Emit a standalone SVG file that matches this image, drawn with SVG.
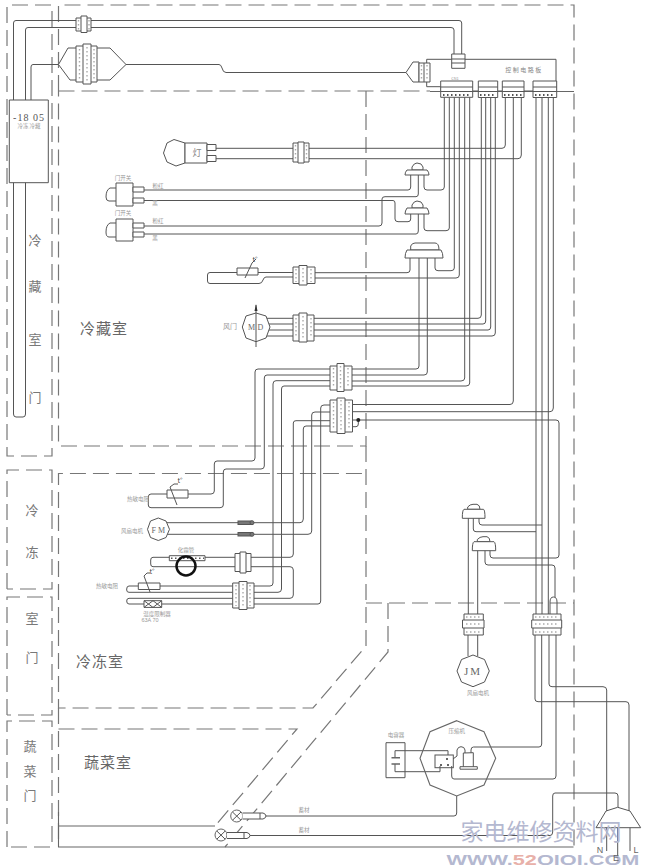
<svg xmlns="http://www.w3.org/2000/svg" width="645" height="868" viewBox="0 0 645 868">
<style>
text{font-family:"Noto Sans CJK SC","Liberation Sans",sans-serif;fill:#666;text-anchor:middle;opacity:.99}
.d{fill:none;stroke:#777;stroke-width:1.2;stroke-dasharray:16 7}
.s{fill:none;stroke:#666;stroke-width:1.1}
.w{fill:none;stroke:#555;stroke-width:1}
.n{fill:#fff;stroke:#555;stroke-width:1;stroke-linejoin:round}
.p{fill:#fff;stroke:#666;stroke-width:1}
.t{fill:none;stroke:#aaa;stroke-width:1.4;stroke-dasharray:1.5 2.5}
.b{font-size:13px;fill:#777}
.r{font-size:15px;fill:#666}
.m{font-size:5.5px;fill:#999}
.v{font-size:8px;fill:#666;font-family:"Liberation Serif",serif}
</style>
<rect width="645" height="868" fill="#fff"/>
<g id="cabinet">
<path class="d" d="M7 276V5H52V456H7V276"/>
<path class="d" d="M7 589V470H52V589H7"/>
<path class="d" d="M7 715V597H52V715H7"/>
<path class="d" d="M7 847V721H52V847H7"/>
<path class="d" d="M58.5 91V5H574V847"/>
<path class="d" d="M58.5 91H430"/>
<path class="s" d="M430 91.5H574"/>
<path class="d" d="M366 91V446H58.5V91"/>
<path class="d" d="M366 446V646L313 708H58.5V473.5H366"/>
<path class="d" d="M58.5 708V846"/>
<path class="d" d="M366 603H574"/>
<path class="d" d="M388 603V652L225 847"/>
<path class="d" d="M58.5 729H297L215 826"/>
<path class="s" d="M58.5 812V826H215"/>
<path class="s" d="M58.5 826V847H573.5"/>
</g>
<g id="connectors">
<path class="w" d="M461.7 55V23Q461.7 20.5 459 20.5H16Q13.5 20.5 13.5 23V414Q13.5 417 16 417H23Q25.5 417 25.5 414V30Q25.5 27.5 28 27.5H451Q454 27.5 454 30V55"/>
<path class="w" d="M31 100V67Q31 64.5 33 64.5H58.5"/>
<path class="w" d="M126 64.5H219Q221 64.5 222 68Q223 72.5 226 72.5H406"/>
<path class="w" d="M444.3 97V187Q444.3 190 441 190H427Q424 190 424 187V175"/>
<path class="w" d="M449.3 97V228Q449.3 230.7 446 230.7H427Q424 230.7 424 228V214"/>
<path class="w" d="M454.3 97V268Q454.3 270.7 451 270.7H438Q435 270.7 435 268V258"/>
<path class="w" d="M459.3 97V275Q459.3 278 456 278H315"/>
<path class="w" d="M464.7 97V378Q464.7 381 461 381H351"/>
<path class="w" d="M469.7 97V383Q469.7 386 466 386H351"/>
<path class="w" d="M481.3 97V315Q481.3 318.3 478 318.3H264"/>
<path class="w" d="M485.7 97V321Q485.7 324 483 324H264"/>
<path class="w" d="M490.7 97V327Q490.7 330 488 330H264"/>
<path class="w" d="M495.3 97V333Q495.3 336 492 336H264"/>
<path class="w" d="M505.3 97V145Q505.3 148.3 502 148.3H215"/>
<path class="w" d="M521.3 97V155Q521.3 158.7 518 158.7H215"/>
<path class="w" d="M513.3 97V401Q513.3 404.5 510 404.5H351"/>
<path class="w" d="M536 97V614M542 97V614M548.3 97V614"/>
<path class="w" d="M553.3 97V408Q553.3 411.7 550 411.7H351"/>
<path class="w" d="M351 420H556Q559 420 559 423V555Q559 558 556 558H493Q490 558 490 555V550"/>
<path class="w" d="M351 426.7H356Q358.3 426.7 358.3 424V420"/>
<path class="w" d="M468.3 518V614M473.3 518V529Q473.3 531.7 476 531.7H536M479 518V522Q479 525 482 525H542"/>
<path class="w" d="M477.7 550V614M485 550V562Q485 565 488 565H552Q555 565 555 568V597"/>
<path class="w" d="M550 614V602Q550 597 553.5 597Q557 597 557 602V614"/>
<path class="w" d="M468 635V656M477.7 635V656"/>
<path class="w" d="M535 635V699Q535 701.7 538 701.7H626Q629 701.7 629 705V811"/>
<path class="w" d="M541.7 635V744Q541.7 747 539 747H473.5Q471 747 471 750V753"/>
<path class="w" d="M549 635V684Q549 686.7 552 686.7H603Q606.7 686.7 606.7 690V811"/>
<path class="w" d="M556 635V776Q556 779 553 779H454Q451.7 779 451.7 776V766"/>
<path class="w" d="M456.7 796V813Q456.7 816 454 816H265"/>
<path class="w" d="M250 835.5H550Q552.7 835.5 552.7 832V796Q552.7 793 555 793H615Q618 793 618 796V807"/>
<path class="w" d="M606.7 827V851M617.7 827V856M630 827V851"/>
<path class="w" d="M144 190H408Q410.7 190 410.7 187V175"/>
<path class="w" d="M418.3 175V194Q418.3 196.7 416 196.7H385Q382 196.7 382 199V223Q382 226 379 226H144"/>
<path class="w" d="M144 200.5H393Q395 200.5 395 203V219Q395 221.7 398 221.7H408Q410.7 221.7 410.7 219V214"/>
<path class="w" d="M418.3 214V231Q418.3 234 416 234H144"/>
<path class="w" d="M258 272.5H293M315 272.7H407Q410 272.7 410 270V258"/>
<path class="w" d="M237 272.5H210Q207.5 272.5 207.5 275V281Q207.5 283.5 210 283.5H259Q262 283.5 263 280Q264 277 266 277H293"/>
<path class="w" d="M419 258V366Q419 369 416 369H351"/>
<path class="w" d="M427.3 258V372Q427.3 375 424 375H351"/>
<path class="w" d="M330 369H258Q255 369 255 372V458Q255 461 252 461H217Q214.3 461 214.3 464V491Q214.3 494 211 494H188"/>
<path class="w" d="M330 375H267Q264.3 375 264.3 378V466Q264.3 469 261 469H226Q223.3 469 223.3 472V505Q223.3 507.7 220 507.7H151Q148.3 507.7 148.3 505V497Q148.3 494 151 494H167"/>
<path class="w" d="M330 380.7H276Q273 380.7 273 384V583Q273 586 270 586H254"/>
<path class="w" d="M330 386H284Q281.5 386 281.5 389V589Q281.5 592.3 278 592.3H254"/>
<path class="w" d="M330 405H324Q320.7 405 320.7 408V601Q320.7 604 318 604H254"/>
<path class="w" d="M330 412H315Q311.7 412 311.7 415V531Q311.7 534.3 308 534.3H167"/>
<path class="w" d="M330 420.7H296Q293.3 420.7 293.3 423V554Q293.3 557.3 290 557.3H251"/>
<path class="w" d="M330 426H306Q303.3 426 303.3 429V519Q303.3 522.7 300 522.7H167"/>
<path class="w" d="M235 557.3H153Q150.7 557.3 150.7 560V564Q150.7 566.7 153 566.7H235"/>
<path class="w" d="M251 566.7H290Q293.3 566.7 293.3 570V595Q293.3 598.3 290 598.3H254"/>
<path class="w" d="M232.7 586H160M138.3 586H129Q126.7 586 126.7 589V590Q126.7 592.3 129 592.3H232.7"/>
<path class="w" d="M232.7 598.3H129Q126.7 598.3 126.7 601Q126.7 604 129 604H232.7"/>
</g>
<g id="door-heater-box">
<rect class="n" x="9.3" y="100" width="39" height="82.7"/>
<text x="29" y="121" style="font-size:10px;letter-spacing:1px;font-family:'Liberation Serif',serif;fill:#555">-18 05</text>
<text x="29" y="128" class="m">冷冻  冷藏</text>
</g>
<g id="conn-top">
<rect class="n" x="76" y="18" width="15" height="13"/><rect class="n" x="81" y="16" width="6" height="16.5"/>
<path class="t" d="M78.5 20V30M89 20V30"/>
</g>
<g id="conn-double">
<path class="n" d="M58.5 64.5L68 48H110L126 64.5L110 80H70Z"/>
<rect class="n" x="76" y="46" width="21" height="36"/><rect class="n" x="83" y="44" width="8" height="40"/>
<path class="t" d="M79.5 49V80M87 47V81M94 49V80"/>
</g>
<g id="control-board">
<path class="n" d="M426.7 59.3H556V91H441V86.7H426.7Z"/>
<text x="524" y="72" style="font-size:6px;letter-spacing:1.500px;fill:#888">控制电路板</text>
<text x="455" y="80" class="m" style="font-size:4px">CN1</text>
<rect class="n" x="451.7" y="54" width="13.3" height="14.3"/><path class="w" d="M451.7 59H465M451.7 63H465"/>
<path class="n" d="M406 72.5L413 62H419V82H413Z"/>
<rect class="n" x="419" y="63" width="11" height="19"/><path class="w" d="M424 63V82"/><path class="t" d="M421.5 65V80M427 65V80"/>
<g id="cn1"><rect class="n" x="440.7" y="81" width="32" height="16.3"/><path class="w" d="M440.7 87H472.7M440.7 91.5H472.7"/><path class="t" d="M443 95H471" style="stroke:#555;stroke-width:2"/></g>
<g id="cn2"><rect class="n" x="478.3" y="81" width="19.4" height="16.5"/><path class="w" d="M478.3 87H497.7M478.3 91.5H497.7"/><path class="t" d="M480 95H496" style="stroke:#555;stroke-width:2"/></g>
<g id="cn3"><rect class="n" x="502.3" y="81" width="21.7" height="16.5"/><path class="w" d="M502.3 87H524M502.3 91.5H524"/><path class="t" d="M504 95H522" style="stroke:#555;stroke-width:2"/></g>
<g id="cn4"><rect class="n" x="533" y="81" width="23.7" height="16.5"/><path class="w" d="M533 87H556.7M533 91.5H556.7"/><path class="t" d="M535 95H555" style="stroke:#555;stroke-width:2"/></g>
</g>
<g id="lamp">
<path class="n" d="M185 143L174 139.5L167 143L163.5 153L167 162L176 166L185 163Z"/>
<rect class="n" x="185" y="143" width="22" height="20"/>
<rect class="n" x="207" y="144.5" width="9" height="6"/><rect class="n" x="207" y="155.5" width="9" height="6"/>
<text x="197" y="156" style="font-size:9px;fill:#888">灯</text>
</g>
<g id="conn-lamp">
<rect class="n" x="293" y="143" width="16" height="19"/><rect class="n" x="298" y="142" width="6" height="21"/>
<path class="t" d="M295.5 145V160M306.5 145V160"/>
</g>
<g id="switch-1">
<text x="123" y="180" class="m">门开关</text>
<path class="n" d="M116 188H110Q106 190 106 197Q106 201 109 201H116"/>
<rect class="n" x="116" y="183" width="17" height="23"/>
<rect class="n" x="133" y="187" width="11" height="5"/><rect class="n" x="133" y="198" width="11" height="5"/>
<text x="158" y="188" class="m">粉红</text><text x="155" y="205" class="m">黑</text>
</g>
<g id="switch-2">
<text x="123" y="215" class="m">门开关</text>
<path class="n" d="M116 223H110Q106 225 106 232Q106 237 109 237H116"/>
<rect class="n" x="116" y="219" width="17" height="22"/>
<rect class="n" x="133" y="223" width="11" height="5"/><rect class="n" x="133" y="232" width="11" height="5"/>
<text x="158" y="223" class="m">粉红</text><text x="155" y="240" class="m">黑</text>
</g>
<g id="plug-1">
<path class="n" d="M412 170V167Q414 163 417 163Q422 163 423 167V170Z"/>
<path class="n" d="M407 170H427Q429 172 429 175H405Q405 172 407 170Z"/>
</g>
<g id="plug-2">
<path class="n" d="M412 208V205Q414 201 417 201Q422 201 423 205V208Z"/>
<path class="n" d="M407 208H427Q429 211 429 214H405Q405 211 407 208Z"/>
</g>
<g id="plug-3">
<path class="n" d="M410.7 250V246Q412 243 415 243H435Q439 243 439 250Z"/>
<path class="n" d="M407 250H441Q443 253 443 258H405Q405 253 407 250Z"/>
</g>
<g id="thermistor-1">
<rect class="n" x="237" y="268" width="21" height="7"/>
<path class="w" d="M245 278L252 263L256 259"/>
<text x="255" y="262" class="m" style="font-size:7px;fill:#444">t°</text>
<rect class="n" x="293" y="267" width="22" height="16.5"/><rect class="n" x="299" y="265.5" width="8" height="19.5"/>
<path class="t" d="M296 269V282M303 268V283M311 269V282"/>
</g>
<g id="damper">
<path class="n" d="M256 313L266 316L270 327L266 338L256 341.7L246 338L242.3 327L246 316Z"/>
<path class="w" d="M256 305V347"/>
<path d="M256 304L254.5 311H257.5Z" fill="#333"/>
<text x="251.500" y="330" class="v">M</text><text x="260.500" y="330" class="v">D</text>
<text x="230" y="329" class="m" style="font-size:7px">风门</text>
<rect class="n" x="293" y="315" width="21" height="26"/><rect class="n" x="299" y="313" width="8" height="29"/>
<path class="t" d="M296 318V338M303 316V340M311 318V338"/>
</g>
<g id="conn-a">
<rect class="n" x="330" y="366" width="22" height="24"/><rect class="n" x="337" y="363.5" width="7" height="28"/>
<path class="t" d="M333.500 368V388M340.500 366V390M348 368V388"/>
</g>
<g id="conn-b">
<rect class="n" x="330" y="400" width="22.500" height="32"/><rect class="n" x="337" y="398" width="8" height="35.500"/>
<path class="t" d="M333.500 402V430M341 400V432M349 402V430"/>
<circle cx="358.300" cy="420" r="2" fill="#222"/>
</g>
<g id="thermistor-2">
<text x="138" y="501" class="m">热敏电阻</text>
<rect class="n" x="167" y="490" width="21" height="8"/>
<path class="w" d="M177 505L170 487L174 484H178"/>
<text x="180" y="483" class="m" style="font-size:7px;fill:#444">t°</text>
</g>
<g id="fan-motor">
<text x="132" y="533" class="m">风扇电机</text>
<path class="n" d="M158.300 518L166 521L169.500 529.300L166 537.500L158.300 540.500L150.500 537.500L147.500 529.300L150.500 521Z"/>
<text x="158.300" y="532.500" class="v">F M</text>
<g fill="#777" stroke="#555"><rect x="238" y="521" width="13" height="3.500"/><circle cx="252" cy="522.700" r="2"/><rect x="238" y="532.500" width="13" height="3.500"/><circle cx="252" cy="534.300" r="2"/></g>
</g>
<g id="defrost-heater">
<text x="186" y="552" class="m">化霜管</text>
<rect class="n" x="169.300" y="555.700" width="35.700" height="5"/>
<path class="t" d="M171 558.200H204" style="stroke:#555"/>
<circle cx="186" cy="566" r="9.500" fill="none" stroke="#111" stroke-width="2.500"/>
<rect class="n" x="235" y="553.500" width="16" height="18"/><rect class="n" x="240" y="552" width="6" height="21"/>
</g>
<g id="thermistor-3">
<text x="107" y="588" class="m">热敏电阻</text>
<rect class="n" x="138.300" y="583" width="21.700" height="6.500"/>
<path class="w" d="M150 592L144 576L147 573H150"/>
<text x="152" y="574" class="m" style="font-size:7px;fill:#444">t°</text>
</g>
<g id="fuse">
<rect class="n" x="144" y="600.700" width="17.700" height="6.700"/>
<path class="w" d="M144 600.700L153 607.400L161.700 600.700M144 607.400L153 600.700L161.700 607.400"/>
<text x="157" y="615.500" class="m">温度限制器</text>
<text x="150" y="622" class="m" style="font-family:'Liberation Sans',sans-serif">63A 70</text>
</g>
<g id="conn-c">
<rect class="n" x="232.700" y="583" width="21.300" height="25"/><rect class="n" x="239" y="581.500" width="8" height="28"/>
<path class="t" d="M236 585V606M243 584V607M250 585V606"/>
</g>
<g id="plug-a">
<path class="n" d="M467.700 509.300V507Q470 504.300 473 504.300H477Q480 505 480 509.300Z"/>
<path class="n" d="M464 509.300H483.500Q485 510 485 518.300H462.300Q462.300 510 464 509.300Z"/>
</g>
<g id="plug-b">
<path class="n" d="M477.300 541.700V539.500Q480 536.700 483 536.700H487Q490 537.500 490 541.700Z"/>
<path class="n" d="M474 541.700H494Q495.700 542.500 495.700 550.700H472.300Q472.300 542.500 474 541.700Z"/>
</g>
<g id="conn-jm">
<rect class="n" x="464" y="614" width="19.300" height="21"/><rect class="n" x="462.500" y="620" width="21.500" height="8"/>
<path class="t" d="M466 617H481M466 624H481M466 632H481"/>
</g>
<g id="conn-main">
<rect class="n" x="533" y="614" width="28" height="21"/><rect class="n" x="531.700" y="620" width="30" height="8"/>
<path class="t" d="M535 617H559M535 624H559M535 632H559"/>
</g>
<g id="jm-motor">
<path class="n" d="M473 655L484.500 659.500L489.300 671L484.500 682L473 686.700L461.500 682L457 671L461.500 659.500Z"/>
<text x="473" y="675" style="font-size:11px;font-family:'Liberation Serif',serif;letter-spacing:2px">JM</text>
<text x="478" y="695" class="m">风扇电机</text>
</g>
<g id="capacitor">
<text x="396" y="737" class="m">电容器</text>
<rect class="n" x="386" y="742.700" width="19" height="35"/>
<path class="w" d="M395 757.700V750.700H448V755M395 764V771.700H440V766"/>
<path class="s" d="M391.500 757.700H400M391.500 764H400" style="stroke-width:1.500"/>
</g>
<g id="compressor">
<path class="s" d="M456.700 720.700L484 731.700L495.700 758.300L484 785L456.700 796L430 785L420 758.300L430 731.700Z"/>
<text x="456.700" y="733" class="m">压缩机</text>
<rect class="w" x="435" y="755" width="18.300" height="12.700"/>
<circle cx="447" cy="759" r="1" fill="#333"/><circle cx="441" cy="765" r="1" fill="#333"/><circle cx="448" cy="765" r="1" fill="#333"/>
<path class="n" d="M463.300 768V753L473.300 752.700V768Z"/>
<rect class="n" x="460" y="766.700" width="17.300" height="2.500"/>
<path class="w" d="M453 759L457 756V750Q458 746.700 461 746.700Q464.500 746.700 465 750V753"/>
</g>
<g id="lamp-1">
<circle class="p" cx="236.700" cy="816" r="6"/><path class="w" d="M232.500 812L241 820.200M241 812L232.500 820.200"/>
<path class="n" d="M242.500 813H263Q266 814 266 816Q266 818 263 819H242.500"/>
<path class="w" d="M260 813V819"/>
<text x="304" y="812" class="m">蓄材</text>
</g>
<g id="lamp-2">
<circle class="p" cx="221" cy="835" r="6"/><path class="w" d="M216.800 831L225.200 839.200M225.200 831L216.800 839.200"/>
<path class="n" d="M227 832.500H247Q250 833.500 250 835.500Q250 837.500 247 838.500H227"/>
<path class="w" d="M244 832.500V838.500"/>
<text x="304" y="832" class="m">蓄材</text>
</g>
<g id="mains-plug">
<path class="n" d="M596 827.700L606 811L617.700 807.300L630 811L640.700 827.700Z"/>
</g>
<g id="labels">
<text class="b" x="35" y="245">冷</text><text class="b" x="35" y="291">藏</text><text class="b" x="35" y="344">室</text><text class="b" x="35" y="402">门</text>
<text class="b" x="32" y="515">冷</text><text class="b" x="32" y="557">冻</text><text class="b" x="32" y="623">室</text><text class="b" x="32" y="662">门</text>
<text class="b" x="30" y="751">蔬</text><text class="b" x="30" y="776">菜</text><text class="b" x="30" y="800">门</text>
<text class="r" x="104" y="334" style="letter-spacing:1px">冷藏室</text>
<text class="r" x="100" y="667" style="letter-spacing:1px">冷冻室</text>
<text class="r" x="108" y="768" style="letter-spacing:1px">蔬菜室</text>
</g>
<g id="watermark">
<text x="541" y="840" style="font-size:23px;fill:#b4b8d0;letter-spacing:0;font-family:'Noto Sans CJK SC',sans-serif">家电维修资料网</text>
<text x="543" y="865" textLength="193" lengthAdjust="spacingAndGlyphs" style="font-size:14px;font-weight:bold;fill:#b4b8d0;font-family:'Liberation Sans',sans-serif">WWW.<tspan fill="#e8b0a8">52</tspan>OIOI.COM</text>
</g>
<g id="plug-pins">
<text x="600" y="853" style="font-size:9px;font-family:'Liberation Sans',sans-serif">N</text>
<text x="616" y="861" style="font-size:9px;font-family:'Liberation Sans',sans-serif">E</text>
<text x="636" y="853" style="font-size:9px;font-family:'Liberation Sans',sans-serif">L</text>
</g>
</svg>
